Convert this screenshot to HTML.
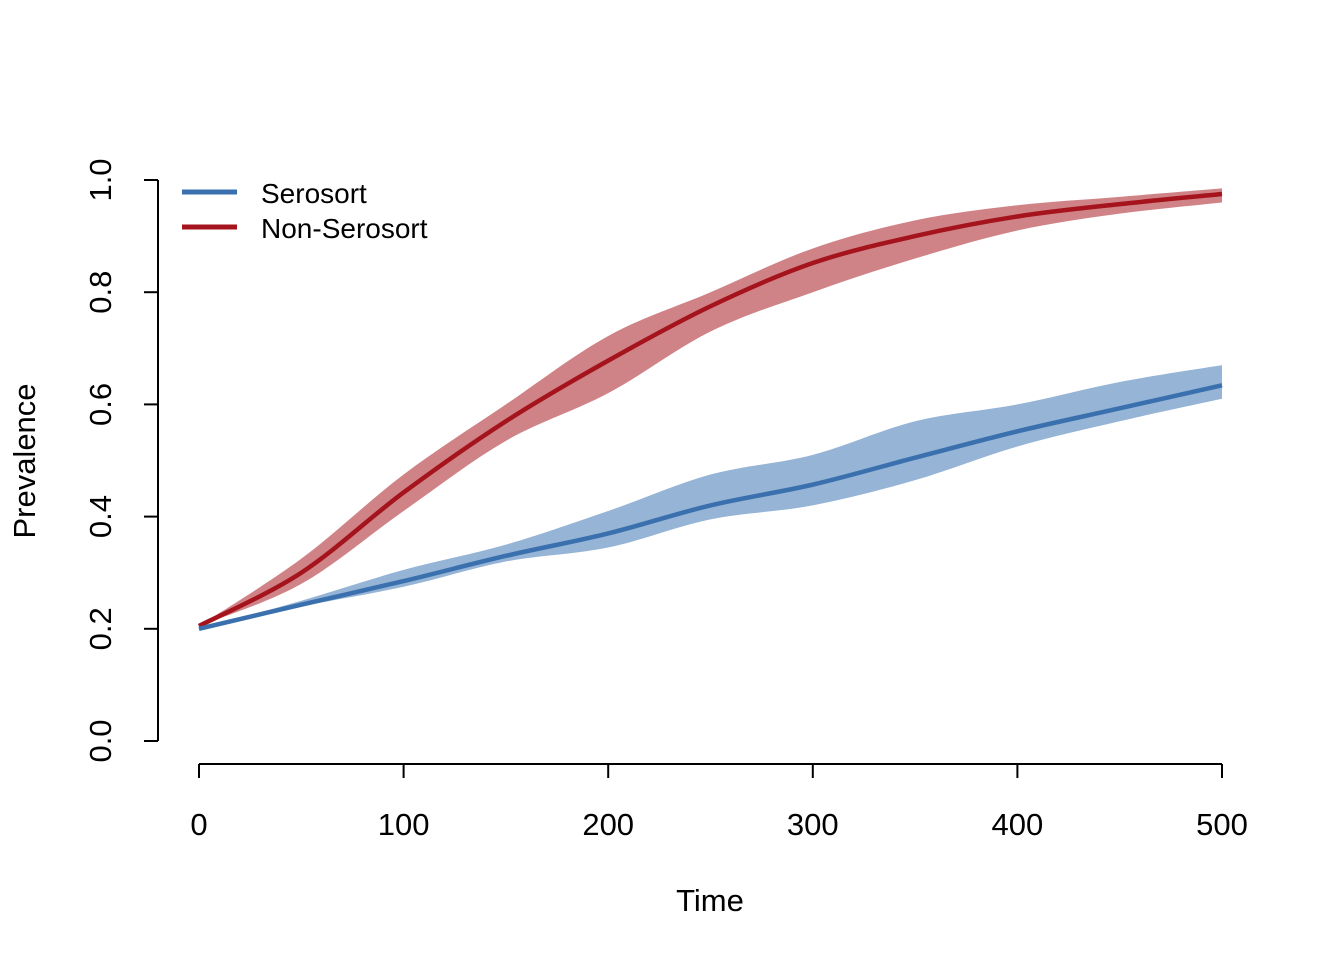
<!DOCTYPE html>
<html><head><meta charset="utf-8"><style>
body{margin:0;background:#fff}
svg text{font-family:"Liberation Sans",Arial,sans-serif;fill:#000}
</style></head><body>
<svg width="1344" height="960" viewBox="0 0 1344 960">
<g id="bands"></g><g id="lines"></g>
<g id="axes" stroke="#000" stroke-width="2" fill="none"></g>
<g id="labels" font-size="31"></g>
<text x="710" y="911" font-size="31" text-anchor="middle">Time</text>
<text transform="translate(35,461) rotate(-90)" font-size="31" text-anchor="middle">Prevalence</text>
<g>
<line x1="182" y1="192" x2="237" y2="192" stroke="#3A70AE" stroke-width="5"/>
<text x="261" y="203" font-size="28">Serosort</text>
<line x1="182" y1="227" x2="237" y2="227" stroke="#A5141D" stroke-width="5"/>
<text x="261" y="238" font-size="28">Non-Serosort</text>
</g>
</svg>
<script>
const times=[0,50,100,150,200,250,300,350,400,450,500];
const blueMean=[0.2,0.243,0.285,0.33,0.37,0.42,0.457,0.505,0.552,0.593,0.634];
const blueUpper=[0.2,0.25,0.305,0.35,0.41,0.475,0.51,0.57,0.6,0.64,0.67];
const blueLower=[0.2,0.24,0.275,0.32,0.345,0.395,0.42,0.465,0.525,0.57,0.61];
const redMean=[0.205,0.3,0.443,0.57,0.678,0.775,0.852,0.9,0.935,0.957,0.975];
const redUpper=[0.205,0.325,0.475,0.6,0.722,0.8,0.878,0.928,0.955,0.97,0.985];
const redLower=[0.205,0.28,0.41,0.535,0.62,0.73,0.8,0.86,0.91,0.94,0.96];
const xTicks=[0,100,200,300,400,500];
const yTicks=[0,0.2,0.4,0.6,0.8,1.0];
const NS='http://www.w3.org/2000/svg';
const X=t=>199+t*(1222-199)/500, Y=v=>741-v*561;
function pts(vals){return times.map((t,i)=>[X(t),Y(vals[i])]);}
function smooth(p,move){let d=move?`M${p[0][0]},${p[0][1]}`:`L${p[0][0]},${p[0][1]}`;
for(let i=0;i<p.length-1;i++){const p0=p[i-1]||p[i],p1=p[i],p2=p[i+1],p3=p[i+2]||p2;
d+=`C${p1[0]+(p2[0]-p0[0])/6},${p1[1]+(p2[1]-p0[1])/6} ${p2[0]-(p3[0]-p1[0])/6},${p2[1]-(p3[1]-p1[1])/6} ${p2[0]},${p2[1]}`;}return d;}
function mk(tag,attrs,parent){const e=document.createElementNS(NS,tag);for(const k in attrs)e.setAttribute(k,attrs[k]);document.getElementById(parent).appendChild(e);return e;}
function band(up,lo,col,name){const d=smooth(pts(up),true)+smooth(pts(lo).reverse(),false)+'Z';
const e=mk('path',{d:d,fill:col},'bands');

}
band(redUpper,redLower,'#D08387','non-serosort-band');
band(blueUpper,blueLower,'#95B4D6','serosort-band');
function line(v,col,name){const e=mk('path',{d:smooth(pts(v),true),fill:'none',stroke:col,'stroke-width':4.5},'lines');

}
line(redMean,'#A5141D','non-serosort-line');
line(blueMean,'#3A70AE','serosort-line');
let a=mk('line',{x1:158,y1:Y(0),x2:158,y2:Y(1)},'axes');


a=mk('line',{x1:X(0),y1:764,x2:X(500),y2:764},'axes');


yTicks.forEach(v=>{mk('line',{x1:144,y1:Y(v),x2:158,y2:Y(v)},'axes');
const t=mk('text',{transform:`translate(111,${Y(v)}) rotate(-90)`,'text-anchor':'middle'},'labels');
t.textContent=v.toFixed(1);

});
xTicks.forEach(v=>{mk('line',{x1:X(v),y1:764,x2:X(v),y2:778},'axes');
const t=mk('text',{x:X(v),y:835,'text-anchor':'middle'},'labels');
t.textContent=v;

});
</script>
</body></html>
